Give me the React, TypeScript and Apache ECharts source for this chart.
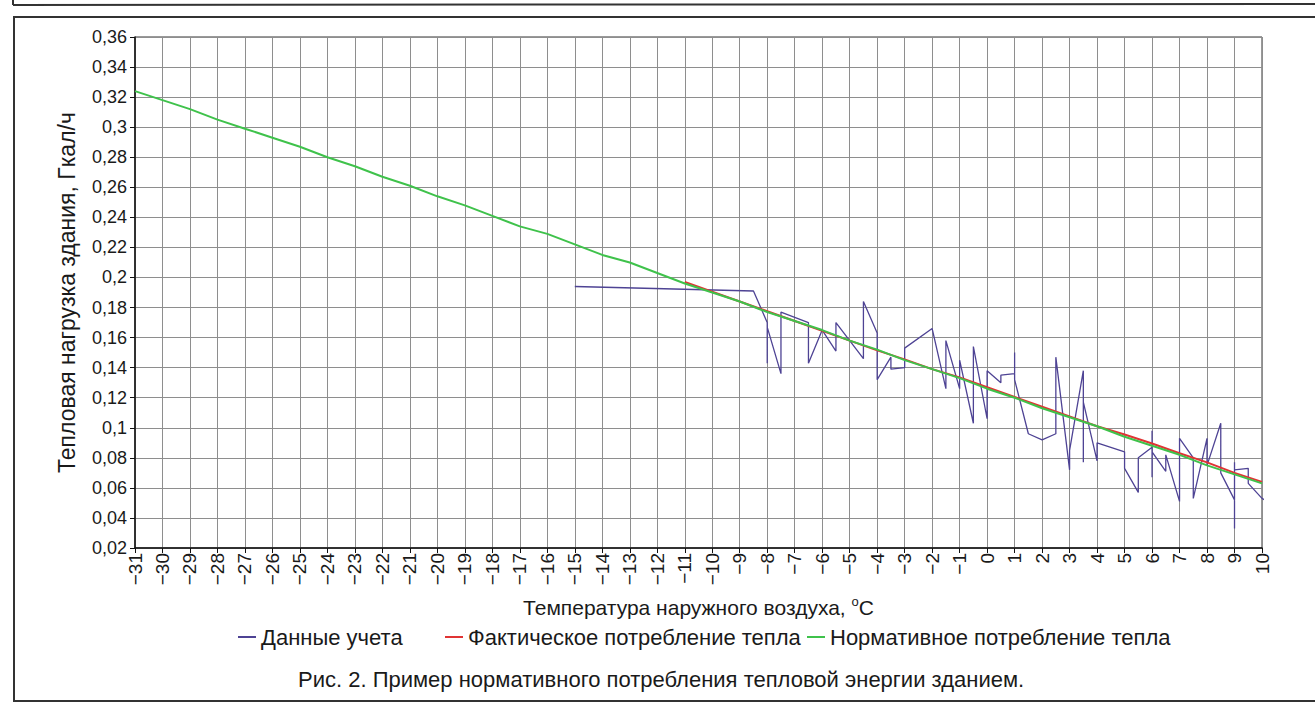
import React, { useEffect, useRef } from "react";
import * as echarts from "echarts";

const seriesNames = [
  "Данные учета",
  "Фактическое потребление тепла",
  "Нормативное потребление тепла",
];

const accountingData: [number, number][] = [
  [-15, 0.194], [-8.5, 0.191], [-8, 0.170], [-8, 0.143], [-8, 0.167],
  [-7.5, 0.136], [-7.5, 0.177], [-6.5, 0.170], [-6.5, 0.143], [-6, 0.165],
  [-5.5, 0.151], [-5.5, 0.170], [-4.5, 0.146], [-4.5, 0.184], [-4, 0.163],
  [-4, 0.132], [-3.5, 0.147], [-3.5, 0.139], [-3, 0.140], [-3, 0.153],
  [-2, 0.166], [-1.5, 0.126], [-1.5, 0.158], [-1, 0.126], [-1, 0.145],
  [-0.5, 0.103], [-0.5, 0.154], [0, 0.106], [0, 0.138], [0.5, 0.130],
  [0.5, 0.135], [1, 0.136], [1, 0.150], [1, 0.132], [1.5, 0.096],
  [2, 0.092], [2.5, 0.096], [2.5, 0.147], [3, 0.072], [3, 0.085],
  [3.5, 0.138], [3.5, 0.077], [3.5, 0.117], [4, 0.078], [4, 0.090],
  [5, 0.084], [5, 0.073], [5.5, 0.057], [5.5, 0.080], [6, 0.087],
  [6, 0.098], [6, 0.067], [6, 0.084], [6.5, 0.071], [6.5, 0.082],
  [7, 0.051], [7, 0.093], [7.5, 0.080], [7.5, 0.053], [8, 0.093],
  [8, 0.075], [8.5, 0.103], [8.5, 0.070], [9, 0.052], [9, 0.077],
  [9, 0.033], [9, 0.072], [9.5, 0.073], [9.5, 0.063], [10, 0.053],
  [10.1, 0.052],
];

const actualTemps = [-11, -10, -9, -8, -7, -6, -5, -4, -3, -2, -1, 0, 1, 2, 3, 4, 5, 6, 7, 8, 9, 10];
const actualValues = [
  0.197, 0.1905, 0.184, 0.1775, 0.171, 0.1645, 0.158, 0.1515, 0.1455, 0.139, 0.1335,
  0.127, 0.1205, 0.114, 0.1075, 0.101, 0.0955, 0.0895, 0.083, 0.077, 0.070, 0.064,
];

const normTemps = [
  -31, -30, -29, -28, -27, -26, -25, -24, -23, -22, -21, -20, -19, -18, -17, -16,
  -15, -14, -13, -12, -11, -10, -9, -8, -7, -6, -5, -4, -3, -2, -1, 0, 1, 2, 3,
  4, 5, 6, 7, 8, 9, 10,
];
const normValues = [
  0.324, 0.318, 0.312, 0.305, 0.299, 0.293, 0.287, 0.280, 0.274, 0.267, 0.261,
  0.254, 0.248, 0.241, 0.234, 0.229, 0.222, 0.215, 0.210, 0.203, 0.196, 0.190,
  0.184, 0.177, 0.171, 0.165, 0.158, 0.152, 0.145, 0.139, 0.133, 0.126, 0.120,
  0.113, 0.107, 0.101, 0.094, 0.088, 0.082, 0.075, 0.069, 0.063,
];

const FONT = "'Liberation Sans', Arial, sans-serif";

export default function App() {
  const ref = useRef<HTMLDivElement>(null);
  useEffect(() => {
    if (!ref.current) return;
    const chart = echarts.init(ref.current, null, { renderer: "svg" });
    const legendCommon = {
      orient: "horizontal",
      top: 626,
      padding: 0,
      itemWidth: 18,
      itemHeight: 2,
      icon: "rect",
      textStyle: { fontFamily: FONT, fontSize: 22, color: "#1a1a1a" },
      selectedMode: false,
    };
    chart.setOption({
      animation: false,
      backgroundColor: "#ffffff",
      textStyle: { fontFamily: FONT },
      title: {
        text: "Рис. 2. Пример нормативного потребления тепловой энергии зданием.",
        left: 298,
        top: 668,
        padding: 0,
        textStyle: { fontFamily: FONT, fontSize: 22, fontWeight: "normal", color: "#1a1a1a" },
      },
      legend: [
        { ...legendCommon, left: 238, data: [seriesNames[0]] },
        { ...legendCommon, left: 445, data: [seriesNames[1]] },
        { ...legendCommon, left: 807, data: [seriesNames[2]] },
      ],
      grid: {
        left: 135,
        right: 53,
        top: 37,
        bottom: 154,
        show: true,
        borderColor: "#333",
        borderWidth: 1,
      },
      xAxis: {
        type: "value",
        min: -31,
        max: 10,
        interval: 1,
        name: "Температура наружного воздуха, {sup|o}C",
        nameLocation: "middle",
        nameGap: 47,
        nameTextStyle: {
          fontFamily: FONT,
          fontSize: 21,
          color: "#1a1a1a",
          rich: {
            sup: { fontSize: 13, fontFamily: FONT, color: "#1a1a1a", padding: [0, 0, 12, 0] },
          },
        },
        axisLine: { show: true, onZero: false, lineStyle: { color: "#111", width: 1.5 } },
        axisTick: { show: true, length: 5, lineStyle: { color: "#111" } },
        axisLabel: {
          rotate: 90,
          fontSize: 19,
          fontFamily: FONT,
          color: "#1a1a1a",
          margin: 5,
          formatter: (v: number) => String(v).replace("-", "\u2212"),
        },
        splitLine: { show: true, lineStyle: { color: "#8e8e8e", width: 1 } },
      },
      yAxis: {
        type: "value",
        min: 0.02,
        max: 0.36,
        interval: 0.02,
        name: "Тепловая нагрузка здания, Гкал/ч",
        nameLocation: "middle",
        nameGap: 57,
        nameTextStyle: { fontFamily: FONT, fontSize: 23, color: "#1a1a1a" },
        axisLine: { show: true, onZero: false, lineStyle: { color: "#111", width: 1.5 } },
        axisTick: { show: true, length: 5, lineStyle: { color: "#111" } },
        axisLabel: {
          fontSize: 18,
          fontFamily: FONT,
          color: "#1a1a1a",
          margin: 8,
          formatter: (v: number) => String(Math.round(v * 100) / 100).replace(".", ","),
        },
        splitLine: { show: true, lineStyle: { color: "#8e8e8e", width: 1 } },
      },
      graphic: [
        {
          type: "rect",
          shape: { x: 14, y: 17, width: 1320, height: 684 },
          style: { fill: "none", stroke: "#333", lineWidth: 2 },
          silent: true,
        },
        {
          type: "line",
          shape: { x1: 13, y1: 5, x2: 1315, y2: 4 },
          style: { stroke: "#333", lineWidth: 2 },
          silent: true,
        },
        {
          type: "line",
          shape: { x1: 13, y1: 0, x2: 13, y2: 5 },
          style: { stroke: "#333", lineWidth: 2 },
          silent: true,
        },
      ],
      series: [
        {
          name: seriesNames[0],
          type: "line",
          data: accountingData,
          symbol: "none",
          clip: false,
          lineStyle: { color: "#4e4394", width: 1.3 },
          itemStyle: { color: "#4e4394" },
        },
        {
          name: seriesNames[1],
          type: "line",
          data: actualTemps.map((t, i) => [t, actualValues[i]]),
          symbol: "none",
          lineStyle: { color: "#e03434", width: 2 },
          itemStyle: { color: "#e03434" },
        },
        {
          name: seriesNames[2],
          type: "line",
          data: normTemps.map((t, i) => [t, normValues[i]]),
          symbol: "none",
          lineStyle: { color: "#3fc24b", width: 2 },
          itemStyle: { color: "#3fc24b" },
        },
      ],
    });
    return () => chart.dispose();
  }, []);
  return (
    <div
      ref={ref}
      style={{ position: "fixed", left: 0, top: 0, width: 1315, height: 702, background: "#fff" }}
    />
  );
}
